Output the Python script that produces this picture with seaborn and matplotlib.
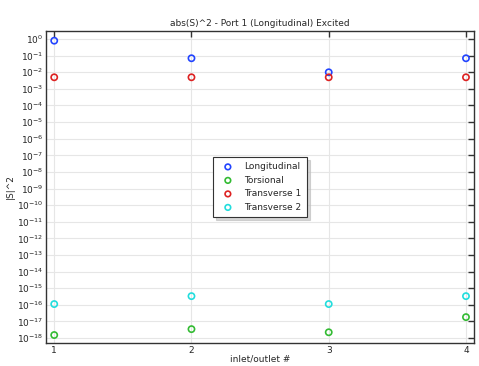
import pandas as pd
import seaborn as sns
import matplotlib.pyplot as plt
from matplotlib.ticker import FixedLocator

# data
ports = [1, 2, 3, 4]
longitudinal = [0.8, 0.07, 0.01, 0.07]
torsional = [1.5e-18, 3.4e-18, 2.2e-18, 1.8e-17]
transverse1 = [0.005, 0.005, 0.005, 0.005]
transverse2 = [1.1e-16, 3.3e-16, 1.1e-16, 3.3e-16]

series = {
    "Longitudinal": longitudinal,
    "Torsional": torsional,
    "Transverse 1": transverse1,
    "Transverse 2": transverse2,
}
colors = {
    "Longitudinal": "#2244ff",
    "Torsional": "#33bb33",
    "Transverse 1": "#dd2222",
    "Transverse 2": "#22dddd",
}

sns.set_style("white")
plt.rcParams["font.family"] = ["DejaVu Sans"]

fig, ax = plt.subplots(figsize=(4.79, 3.66), dpi=100)
fig.subplots_adjust(left=0.096, right=0.99, top=0.915, bottom=0.063)

for name, vals in series.items():
    df = pd.DataFrame({"port": ports, "S2": vals})
    sns.scatterplot(data=df, x="port", y="S2", ax=ax, marker="o",
                    facecolors="none", edgecolor=colors[name], linewidth=1.2,
                    s=20, label=name, zorder=3)

ax.set_yscale("log")
ax.set_ylim(10 ** -18.3, 10 ** 0.48)
ax.set_xlim(0.94, 4.06)
ax.set_yticks([10.0 ** k for k in range(-18, 1)])
ax.yaxis.set_minor_locator(FixedLocator([]))
ax.set_xticks(ports)

ax.grid(True, color="#e6e6e6", linewidth=0.8, zorder=0)
ax.tick_params(axis="both", which="both", direction="in", top=True, right=True,
               labelsize=6.5, length=4, width=1, color="#333333", pad=2)
for sp in ax.spines.values():
    sp.set_color("#333333")
    sp.set_linewidth(1)

ax.set_title("abs(S)^2 - Port 1 (Longitudinal) Excited", fontsize=6.5, pad=4)
ax.set_xlabel("inlet/outlet #", fontsize=6.5, labelpad=0)
ax.set_ylabel("|S|^2", fontsize=6.5, labelpad=1)

leg = ax.legend(loc="center", fontsize=6.5, frameon=True, fancybox=False,
                shadow={"color": "#bbbbbb", "alpha": 0.6, "ox": 2, "oy": -2},
                borderpad=0.6, labelspacing=0.5, handletextpad=0.8,
                markerscale=0.9)
leg.get_frame().set_edgecolor("#333333")
leg.get_frame().set_linewidth(0.8)

plt.savefig("out.png", dpi=100)
